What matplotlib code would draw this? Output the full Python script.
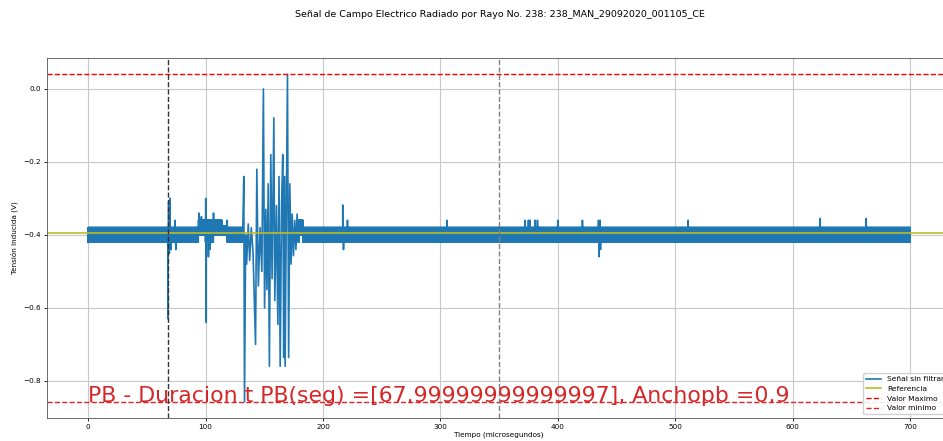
import numpy as np
import matplotlib
matplotlib.use("Agg")
import matplotlib.pyplot as plt

# --- signal description -------------------------------------------------
dt = 0.1                      # sample interval (microseconds)
t_end = 700.0                 # record length (microseconds)

# quantisation levels the digitiser toggles between at rest
base_lo, base_hi = -0.42, -0.38

# stretches where the resting levels move: (start, end, low, high)
seg_start = [94.0, 100.0, 107.0, 114.0, 179.5]
seg_end = [100.0, 107.0, 114.0, 118.5, 183.0]
seg_lo = [-0.40, -0.42, -0.40, -0.40, -0.40]
seg_hi = [-0.36, -0.36, -0.36, -0.375, -0.36]

# isolated samples of the discharge (time in microseconds, volts)
spike_t = [
    68.0, 68.6, 69.2, 69.8, 70.6, 74.1, 74.7,
    94.3, 96.5, 100.2, 100.6, 102.5, 103.9, 106.8, 111.0, 118.5,
    216.9, 217.5, 220.9, 305.5,
    372.2, 375.0, 376.5, 380.7, 382.7, 400.0, 421.0, 434.7, 435.0, 436.0, 436.4,
    511.0, 623.5, 662.7,
]
spike_v = [
    -0.63, -0.31, -0.45, -0.30, -0.44, -0.36, -0.44,
    -0.34, -0.35, -0.30, -0.64, -0.46, -0.44, -0.34, -0.36, -0.36,
    -0.318, -0.44, -0.36, -0.36,
    -0.36, -0.36, -0.36, -0.36, -0.36, -0.36, -0.36, -0.36, -0.46, -0.36, -0.44,
    -0.36, -0.355, -0.355,
]

# main burst: successive extremes, joined point to point
burst_t = [
    131.8, 132.6, 133.2, 134.2, 135.0, 136.4, 137.6, 139.0, 140.5, 142.6,
    143.7, 145.0, 146.5, 148.0, 149.3, 150.3, 151.4, 152.3, 153.4, 154.4,
    155.6, 156.7, 158.2, 159.0, 160.4, 161.6, 162.6, 163.6, 164.8, 165.8,
    166.6, 167.2, 167.8, 168.8, 169.8, 170.8, 171.8, 172.9, 173.8, 174.9,
    176.0, 177.0, 178.0, 179.0,
]
burst_v = [
    -0.38, -0.24, -0.857, -0.40, -0.48, -0.37, -0.47, -0.38, -0.45, -0.70,
    -0.22, -0.54, -0.38, -0.50, 0.0, -0.60, -0.33, -0.55, -0.26, -0.76,
    -0.18, -0.52, -0.079, -0.58, -0.32, -0.645, -0.24, -0.76, -0.31, -0.18,
    -0.736, -0.24, -0.76, -0.34, 0.04, -0.736, -0.26, -0.48, -0.343, -0.457,
    -0.36, -0.44, -0.343, -0.42,
]

referencia = -0.395
pb_inicio = 67.99999999999997
pb_fin = 350.0
ancho_pb = 0.9

titulo = "Señal de Campo Electrico Radiado por Rayo No. 238: 238_MAN_29092020_001105_CE"

# --- build the sampled signal ------------------------------------------
t = np.arange(0.0, t_end, dt)
toggle = (np.arange(t.size) % 2) == 0
signal = np.where(toggle, base_lo, base_hi)
for a, b, lo, hi in zip(seg_start, seg_end, seg_lo, seg_hi):
    m = (t >= a) & (t < b)
    signal[m] = np.where(toggle[m], lo, hi)
for ts, vs in zip(spike_t, spike_v):
    signal[int(round(ts / dt))] = vs

# replace the burst window by its extremes
outside = (t < burst_t[0]) | (t > burst_t[-1])
t = np.concatenate([t[outside], burst_t])
signal = np.concatenate([signal[outside], burst_v])
order = np.argsort(t, kind="stable")
t, signal = t[order], signal[order]

v_max = signal.max()
v_min = signal.min()

# --- figure --------------------------------------------------------------
fig = plt.figure(figsize=(9.43, 4.41), dpi=100)
ax = fig.add_axes([47 / 943, 23 / 441, 904 / 943, 360 / 441])

ax.plot(t, signal, color="#1f77b4", lw=1.2, label="Señal sin filtrar")
ax.axhline(referencia, color="#bcbd22", lw=1.2, label="Referencia")
ax.axhline(v_max, color="red", ls="--", lw=1.0, label="Valor Maximo")
ax.axhline(v_min, color="#d62728", ls="--", lw=1.0, label="Valor minimo")
ax.axvline(pb_inicio, color="#333333", ls="--", lw=1.0)
ax.axvline(pb_fin, color="gray", ls="--", lw=1.0)

ax.text(0, v_min, f"PB - Duracion t PB(seg) =[{pb_inicio}], Anchopb ={ancho_pb}",
        color="#d62728", fontsize=15.8)

ax.grid(True, color="#c8c8c8", lw=0.8)
ax.tick_params(labelsize=5.2, length=2.5, width=0.6, pad=2)
ax.set_xlabel("Tiempo (microsegundos)", fontsize=5.2, labelpad=1)
ax.set_ylabel("Tensión Inducida (V)", fontsize=5.2, labelpad=4)
for s in ax.spines.values():
    s.set_linewidth(0.6)
    s.set_color("#555555")

ax.legend(loc="lower right", fontsize=5.4, framealpha=0.9, handlelength=2.0,
          labelspacing=0.45)

fig.suptitle(titulo, x=500 / 943, y=0.977, fontsize=6.8)

fig.savefig("out.png", dpi=100)
